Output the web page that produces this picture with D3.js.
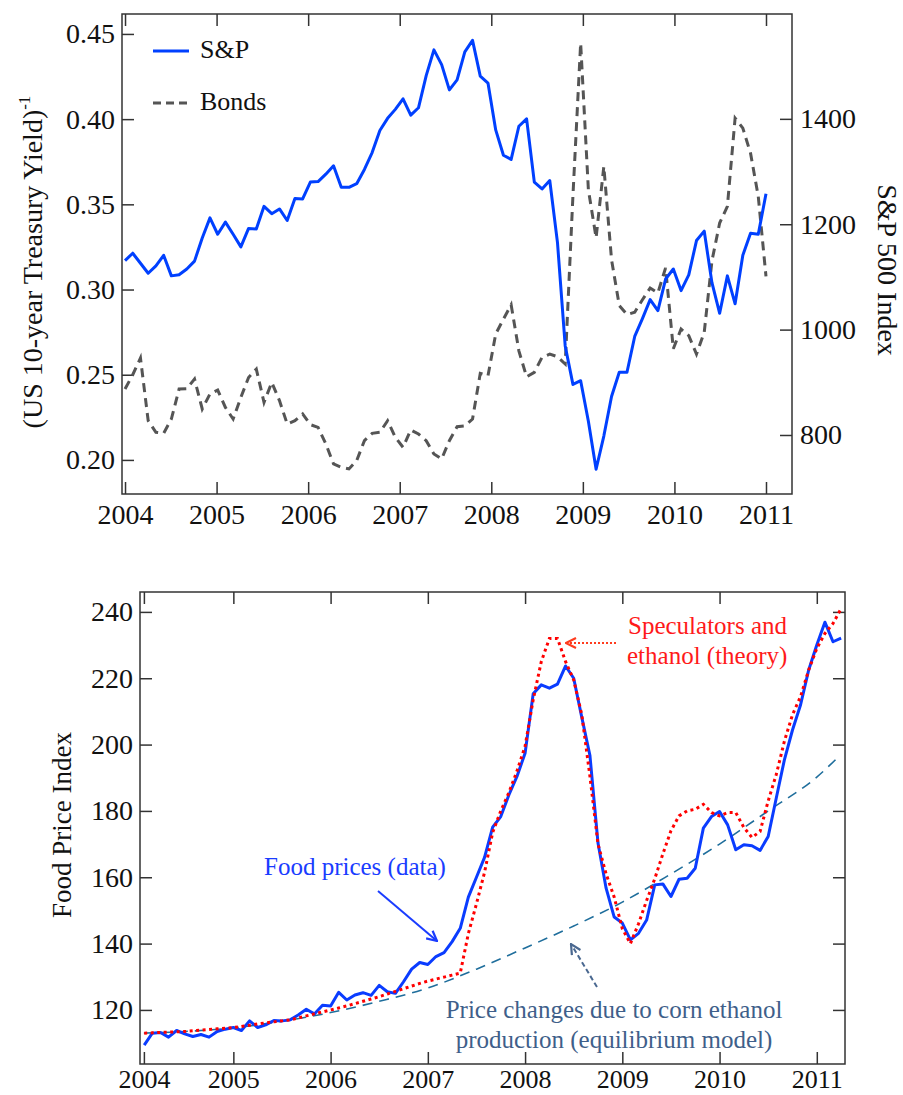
<!DOCTYPE html>
<html>
<head>
<meta charset="utf-8">
<script src="https://cdn.jsdelivr.net/npm/d3@7"></script>
<style>
body { margin: 0; background: #fff; }
text { font-family: "Liberation Serif", "Times New Roman", serif; fill: #111; }
</style>
</head>
<body>
<svg id="chart" width="903" height="1095"></svg>
<script>
// ---- top panel data (monthly, Jan 2004 .. Dec 2010) ----
var spIndex = [
    1131, 1145, 1126, 1107, 1121, 1141, 1102, 1104, 1115, 1130, 1174, 1212,
    1181, 1204, 1181, 1157, 1192, 1191, 1234, 1220, 1229, 1207, 1249, 1248,
    1280, 1281, 1295, 1311, 1270, 1270, 1277, 1304, 1336, 1378, 1401, 1418,
    1438, 1407, 1421, 1482, 1531, 1503, 1455, 1474, 1527, 1549, 1481, 1468,
    1379, 1331, 1323, 1386, 1400, 1280, 1267, 1283, 1165, 969, 896, 903,
    826, 735, 798, 873, 919, 919, 987, 1021, 1057, 1036, 1096, 1115,
    1074, 1104, 1169, 1187, 1089, 1031, 1102, 1049, 1141, 1183, 1181, 1258
];
var bondsInvYield = [
    0.2416, 0.250, 0.2598, 0.223, 0.2162, 0.2156, 0.224, 0.2416, 0.2418, 0.2475, 0.2299, 0.2387,
    0.241, 0.2308, 0.224, 0.2367, 0.2484, 0.2533, 0.2338, 0.2455, 0.2348, 0.2211, 0.223, 0.227,
    0.2207, 0.2191, 0.2094, 0.1977, 0.1957, 0.1947, 0.1996, 0.2113, 0.2156, 0.2162, 0.223, 0.2133,
    0.2074, 0.2176, 0.2152, 0.2113, 0.2035, 0.2006, 0.2113, 0.2195, 0.220, 0.224, 0.2508, 0.2494,
    0.2739, 0.2826, 0.291, 0.264, 0.2488, 0.2514, 0.2602, 0.2621, 0.2606, 0.2563, 0.355, 0.4445,
    0.3586, 0.3304, 0.3722, 0.3175, 0.2906, 0.2853, 0.2867, 0.294, 0.3009, 0.298, 0.3127, 0.2652,
    0.2768, 0.2729, 0.2621, 0.2748, 0.3168, 0.339, 0.3488, 0.4006, 0.3947, 0.380, 0.3546, 0.3077
];
var yearTicks = [2004, 2005, 2006, 2007, 2008, 2009, 2010, 2011];
var yieldTicks = [0.20, 0.25, 0.30, 0.35, 0.40, 0.45];
var spTicks = [800, 1000, 1200, 1400];

// ---- bottom panel data (monthly, Feb 2004 .. Apr 2011) ----
var foodPrices = [
    109.4, 113.0, 113.2, 111.8, 113.8, 112.8, 112.0, 112.6, 111.8, 113.5, 114.2, 114.7,
    113.8, 116.7, 114.7, 115.5, 116.8, 116.7, 117.0, 118.5, 120.2, 118.8, 121.4, 121.2,
    125.3, 123.0, 124.5, 125.2, 124.4, 127.4, 125.5, 125.0, 128.5, 132.3, 134.3, 133.7,
    136.1, 137.3, 140.6, 144.6, 154.0, 160.0, 166.0, 175.1, 178.3, 184.8, 190.4, 197.4,
    215.3, 218.0, 217.0, 218.2, 223.7, 220.0, 208.2, 196.8, 170.3, 156.7, 148.0, 146.2,
    141.1, 143.1, 147.1, 157.7, 158.0, 154.2, 159.4, 159.7, 162.7, 174.8, 178.3, 179.8,
    175.8, 168.3, 169.8, 169.5, 168.1, 172.3, 183.9, 195.4, 204.4, 212.0, 222.5, 230.0,
    236.9, 231.0, 232.1
];
var theoryPrices = [
    113.0, 113.1, 113.2, 113.3, 113.4, 113.5, 113.7, 113.9, 114.1, 114.3, 114.5, 114.7,
    115.0, 115.4, 115.8, 116.1, 116.4, 116.7, 117.0, 117.6, 118.2, 118.8, 119.4, 120.0,
    120.6, 121.2, 121.9, 122.6, 123.3, 124.0, 124.8, 125.6, 126.4, 127.2, 128.0, 128.7,
    129.3, 129.9, 130.5, 131.1, 143.0, 152.0, 161.5, 173.5, 180.0, 185.5, 192.0, 199.5,
    213.5, 225.0, 232.0, 232.0, 225.0, 219.5, 209.0, 190.5, 170.0, 161.0, 154.0, 144.5,
    140.0, 146.0, 153.0, 159.5, 167.0, 174.0, 178.5, 180.0, 180.5, 182.0, 179.5, 178.5,
    179.5, 179.5, 175.0, 172.0, 173.8, 183.0, 191.0, 201.0, 209.0, 214.5, 222.5, 229.0,
    233.5, 236.5, 241.0
];
var equilibriumYears = [2004.08, 2004.5, 2005, 2005.5, 2006, 2006.5, 2007, 2007.5,
    2008, 2008.5, 2009, 2009.5, 2010, 2010.5, 2011, 2011.22];
var equilibriumValues = [113.0, 113.5, 114.6, 116.6, 119.2, 122.6, 126.6, 132.3,
    138.7, 145.3, 152.5, 161.0, 170.0, 180.0, 190.2, 196.2];
var foodYearTicks = [2004.08, 2005, 2006, 2007, 2008, 2009, 2010, 2011];
var foodTicks = [120, 140, 160, 180, 200, 220, 240];

var svg = d3.select("#chart");
var axisColor = "#333";

function styleAxis(g, fontSize) {
    g.select(".domain").remove();
    g.selectAll(".tick line").attr("stroke", axisColor).attr("stroke-width", 1.5);
    g.selectAll(".tick text")
        .attr("font-size", fontSize)
        .attr("font-family", "Liberation Serif, Times New Roman, serif")
        .attr("fill", "#111");
}

function drawFrame(box) {
    svg.append("rect")
        .attr("x", box.left)
        .attr("y", box.top)
        .attr("width", box.right - box.left)
        .attr("height", box.bottom - box.top)
        .attr("fill", "none")
        .attr("stroke", axisColor)
        .attr("stroke-width", 1.5);
}

// ================= top panel =================
function drawTop() {
    var box = { left: 122, right: 792, top: 14, bottom: 494 };
    var x = d3.scaleLinear().domain([2003.967, 2011.284]).range([box.left, box.right]);
    var month = d3.scaleLinear().domain([0, spIndex.length - 1]).range([2004, 2011]);
    var yBond = d3.scaleLinear().domain([0.180, 0.4617]).range([box.bottom, box.top]);
    var ySp = d3.scaleLinear().domain([688, 1599]).range([box.bottom, box.top]);

    svg.append("g")
        .attr("transform", "translate(0," + box.bottom + ")")
        .call(d3.axisBottom(x).tickValues(yearTicks).tickSizeInner(-12).tickSizeOuter(0)
            .tickPadding(10).tickFormat(d3.format("d")))
        .call(g => styleAxis(g, 28));
    svg.append("g")
        .attr("transform", "translate(0," + box.top + ")")
        .call(d3.axisTop(x).tickValues(yearTicks).tickSizeInner(-12).tickSizeOuter(0).tickFormat(""))
        .call(g => styleAxis(g, 28));
    svg.append("g")
        .attr("transform", "translate(" + box.left + ",0)")
        .call(d3.axisLeft(yBond).tickValues(yieldTicks).tickSizeInner(-12).tickSizeOuter(0)
            .tickPadding(7).tickFormat(d3.format(".2f")))
        .call(g => styleAxis(g, 28));
    svg.append("g")
        .attr("transform", "translate(" + box.right + ",0)")
        .call(d3.axisRight(ySp).tickValues(spTicks).tickSizeInner(-12).tickSizeOuter(0)
            .tickPadding(8).tickFormat(d3.format("d")))
        .call(g => styleAxis(g, 28));
    drawFrame(box);

    // bonds (dashed) under S&P
    svg.append("path")
        .datum(bondsInvYield)
        .attr("fill", "none")
        .attr("stroke", "#555")
        .attr("stroke-width", 3)
        .attr("stroke-dasharray", "9,6")
        .attr("d", d3.line().x((d, i) => x(month(i))).y(d => yBond(d)));

    svg.append("path")
        .datum(spIndex)
        .attr("fill", "none")
        .attr("stroke", "#0040ff")
        .attr("stroke-width", 3)
        .attr("stroke-linejoin", "round")
        .attr("d", d3.line().x((d, i) => x(month(i))).y(d => ySp(d)));

    // legend
    svg.append("line").attr("x1", 153).attr("x2", 189).attr("y1", 51).attr("y2", 51)
        .attr("stroke", "#0040ff").attr("stroke-width", 3);
    svg.append("text").attr("x", 200).attr("y", 58).attr("font-size", 26).text("S&P");
    svg.append("line").attr("x1", 153).attr("x2", 189).attr("y1", 103).attr("y2", 103)
        .attr("stroke", "#555").attr("stroke-width", 3).attr("stroke-dasharray", "8,5");
    svg.append("text").attr("x", 200).attr("y", 110).attr("font-size", 26).text("Bonds");

    // axis titles
    var leftTitle = svg.append("text")
        .attr("transform", "translate(42,262) rotate(-90)")
        .attr("text-anchor", "middle")
        .attr("font-size", 28);
    leftTitle.append("tspan").text("(US 10-year Treasury Yield)");
    leftTitle.append("tspan").attr("dy", -12).attr("font-size", 17).text("-1");

    svg.append("text")
        .attr("transform", "translate(878,270) rotate(90)")
        .attr("text-anchor", "middle")
        .attr("font-size", 28)
        .text("S&P 500 Index");
}

// ================= bottom panel =================
function addMarker(id, color) {
    svg.select("defs").append("marker")
        .attr("id", id)
        .attr("viewBox", "0 0 12 12")
        .attr("refX", 11)
        .attr("refY", 6)
        .attr("markerWidth", 12)
        .attr("markerHeight", 12)
        .attr("markerUnits", "userSpaceOnUse")
        .attr("orient", "auto")
        .append("path")
        .attr("d", "M1,1 L11,6 L1,11")
        .attr("fill", "none")
        .attr("stroke", color)
        .attr("stroke-width", 2.2);
}

function drawBottom() {
    var box = { left: 140, right: 845, top: 592, bottom: 1064 };
    var x = d3.scaleLinear().domain([2004.04, 2011.29]).range([box.left, box.right]);
    var month = d3.scaleLinear().domain([0, 12]).range([2004, 2005]);
    var y = d3.scaleLinear().domain([103.7, 246.0]).range([box.bottom, box.top]);

    svg.append("g")
        .attr("transform", "translate(0," + box.bottom + ")")
        .call(d3.axisBottom(x).tickValues(foodYearTicks).tickSizeInner(-12).tickSizeOuter(0)
            .tickPadding(6).tickFormat(d => Math.floor(d)))
        .call(g => styleAxis(g, 26));
    svg.append("g")
        .attr("transform", "translate(0," + box.top + ")")
        .call(d3.axisTop(x).tickValues(foodYearTicks).tickSizeInner(-12).tickSizeOuter(0).tickFormat(""))
        .call(g => styleAxis(g, 28));
    svg.append("g")
        .attr("transform", "translate(" + box.left + ",0)")
        .call(d3.axisLeft(y).tickValues(foodTicks).tickSizeInner(-12).tickSizeOuter(0).tickPadding(7))
        .call(g => styleAxis(g, 28));
    svg.append("g")
        .attr("transform", "translate(" + box.right + ",0)")
        .call(d3.axisRight(y).tickValues(foodTicks).tickSizeInner(-12).tickSizeOuter(0).tickFormat(""))
        .call(g => styleAxis(g, 28));
    drawFrame(box);

    // equilibrium model (dashed teal)
    svg.append("path")
        .datum(equilibriumValues)
        .attr("fill", "none")
        .attr("stroke", "#1f6e9c")
        .attr("stroke-width", 1.6)
        .attr("stroke-dasharray", "10,7")
        .attr("d", d3.line().curve(d3.curveMonotoneX)
            .x((d, i) => x(equilibriumYears[i])).y(d => y(d)));

    // data (solid blue)
    svg.append("path")
        .datum(foodPrices)
        .attr("fill", "none")
        .attr("stroke", "#0a3cff")
        .attr("stroke-width", 3)
        .attr("stroke-linejoin", "round")
        .attr("d", d3.line().x((d, i) => x(month(i + 1))).y(d => y(d)));

    // theory (dotted red)
    svg.append("path")
        .datum(theoryPrices)
        .attr("fill", "none")
        .attr("stroke", "#ff0000")
        .attr("stroke-width", 3)
        .attr("stroke-dasharray", "3,3.5")
        .attr("d", d3.line().x((d, i) => x(month(i + 1))).y(d => y(d)));

    // annotations
    svg.append("text").attr("x", 264).attr("y", 875).attr("font-size", 25)
        .style("fill", "#1a3cff").text("Food prices (data)");
    svg.append("line")
        .attr("x1", 378).attr("y1", 891).attr("x2", 437).attr("y2", 941)
        .attr("stroke", "#1a3cff").attr("stroke-width", 2)
        .attr("marker-end", "url(#arrow-blue)");

    svg.append("text").attr("x", 628).attr("y", 634).attr("font-size", 25)
        .style("fill", "#ff1a1a").text("Speculators and");
    svg.append("text").attr("x", 627).attr("y", 664).attr("font-size", 25)
        .style("fill", "#ff1a1a").text("ethanol (theory)");
    svg.append("line")
        .attr("x1", 616).attr("y1", 643).attr("x2", 566).attr("y2", 643)
        .attr("stroke", "#ff3c1e").attr("stroke-width", 2)
        .attr("stroke-dasharray", "2,2")
        .attr("marker-end", "url(#arrow-red)");

    svg.append("text").attr("x", 614).attr("y", 1018).attr("font-size", 25)
        .attr("text-anchor", "middle").style("fill", "#3f5f8a")
        .text("Price changes due to corn ethanol");
    svg.append("text").attr("x", 614).attr("y", 1048).attr("font-size", 25)
        .attr("text-anchor", "middle").style("fill", "#3f5f8a")
        .text("production (equilibrium model)");
    svg.append("line")
        .attr("x1", 597).attr("y1", 987).attr("x2", 571).attr("y2", 944)
        .attr("stroke", "#4a6890").attr("stroke-width", 2)
        .attr("stroke-dasharray", "5,3")
        .attr("marker-end", "url(#arrow-slate)");

    svg.append("text")
        .attr("transform", "translate(71,825) rotate(-90)")
        .attr("text-anchor", "middle")
        .attr("font-size", 27)
        .text("Food Price Index");
}

svg.append("defs");
addMarker("arrow-blue", "#1a3cff");
addMarker("arrow-red", "#ff3c1e");
addMarker("arrow-slate", "#4a6890");
drawTop();
drawBottom();
</script>
</body>
</html>
